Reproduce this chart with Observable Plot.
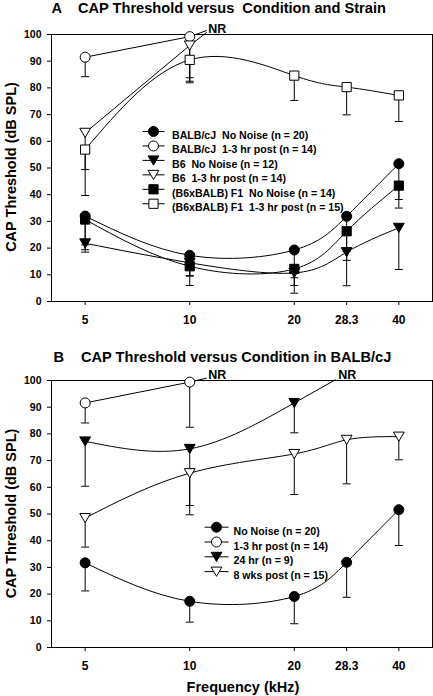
<!DOCTYPE html>
<html>
<head>
<meta charset="utf-8">
<script src="https://cdn.jsdelivr.net/npm/d3@7"></script>
<script src="https://cdn.jsdelivr.net/npm/@observablehq/plot@0.6"></script>
<style>
  html, body { margin: 0; padding: 0; background: #fff; }
  #wrap { position: relative; width: 433px; height: 696px; overflow: hidden; font-family: "Liberation Sans", Arial, sans-serif; }
  #wrap > svg { position: absolute; left: 0; }
  #wrap text { white-space: pre; }
</style>
</head>
<body>
<div id="wrap"></div>
<script>
// ---------- shared axis data ----------
const freqs = [5, 10, 20, 28.3, 40];
const freqLabels = ["5", "10", "20", "28.3", "40"];
const yTicks = [0, 10, 20, 30, 40, 50, 60, 70, 80, 90, 100];

// ---------- Panel A ----------
const titleA = "CAP Threshold versus  Condition and Strain";
const seriesA = [
  "BALB/cJ  No Noise (n = 20)",
  "BALB/cJ  1-3 hr post (n = 14)",
  "B6  No Noise (n = 12)",
  "B6  1-3 hr post (n = 14)",
  "(B6xBALB) F1  No Noise (n = 14)",
  "(B6xBALB) F1  1-3 hr post (n = 15)"
];
const balbNoNoiseA   = [32.0, 17.3, 19.3, 31.9, 51.6];
const balbNoNoiseLoA = [21.2, 9.5, 8.9, 18.8, 38.2];
const balbPostA      = [91.5, 99.2];
const balbPostLoA    = [84.2, 82.5];
const b6NoNoiseA     = [21.8, 14.5, 10.7, 18.5, 27.6];
const b6NoNoiseLoA   = [18.5, 9.7, 3.1, 5.9, 12.0];
const b6PostA        = [63.2, 95.9];
const b6PostLoA      = [39.7, 81.9];
const f1NoNoiseA     = [30.7, 13.2, 12.2, 26.3, 43.4];
const f1NoNoiseLoA   = [19.4, 6.0, 6.0, 15.4, 35.0];
const f1PostA        = [56.9, 90.5, 84.6, 80.3, 77.2];
const f1PostLoA      = [49.4, 83.8, 75.3, 69.9, 67.4];
// "NR" (no response) annotations: series index, end point of the leader, label point
const nrSeriesA = [1, 3];
const nrEndFreqA = [11.2, 11.2];
const nrEndValA = [101.5, 100.8];
const nrLabelFreqA = [12.0];
const nrLabelValA = [102.2];

// ---------- Panel B ----------
const titleB = "CAP Threshold versus Condition in BALB/cJ";
const seriesB = [
  "No Noise (n = 20)",
  "1-3 hr post (n = 14)",
  "24 hr (n = 9)",
  "8 wks post (n = 15)"
];
const noNoiseB   = [31.7, 17.3, 19.1, 31.9, 51.6];
const noNoiseLoB = [21.2, 9.5, 8.9, 18.8, 38.2];
const postB      = [91.6, 99.4];
const postLoB    = [84.1, 82.5];
const hr24B      = [77.2, 74.4, 91.6];
const hr24LoB    = [60.4, 49.7, 80.4];
const wks8B      = [48.5, 65.3, 72.5, 77.8, 79.0];
const wks8LoB    = [37.6, 53.2, 57.3, 61.3, 70.3];
const nrSeriesB = [1, 2];
const nrEndFreqB = [11.2, 26.3];
const nrEndValB = [100.9, 100.3];
const nrLabelFreqB = [12.0, 28.4];
const nrLabelValB = [101.9, 101.9];

// ---------- styles ----------
const FONT = "Liberation Sans, Arial, sans-serif";
const symbols = {
  circle:   { draw(c) { c.moveTo(5, 0); c.arc(0, 0, 5, 0, 2 * Math.PI); } },
  triangle: { draw(c) { c.moveTo(-5.4, -4.5); c.lineTo(5.4, -4.5); c.lineTo(0, 4.7); c.closePath(); } },
  square:   { draw(c) { c.rect(-4.6, -4.6, 9.2, 9.2); } },
  cap:      { draw(c) { c.moveTo(-4, 0); c.lineTo(4, 0); } }
};
const legendLine = (hw) => ({ draw(c) { c.moveTo(-hw, 0); c.lineTo(hw, 0); } });
const styleA = [
  { sym: "circle", fill: "black" }, { sym: "circle", fill: "white" },
  { sym: "triangle", fill: "black" }, { sym: "triangle", fill: "white" },
  { sym: "square", fill: "black" }, { sym: "square", fill: "white" }
];
const styleB = [
  { sym: "circle", fill: "black" }, { sym: "circle", fill: "white" },
  { sym: "triangle", fill: "black" }, { sym: "triangle", fill: "white" }
];

function buildRows(names, values, lows) {
  const rows = [];
  names.forEach((name, i) => {
    values[i].forEach((v, j) => rows.push({ s: i, name, f: freqs[j], v, lo: lows[i][j] }));
  });
  return rows;
}

function makePanel(cfg) {
  const rows = buildRows(cfg.names, cfg.values, cfg.lows);
  const nr = cfg.nrSeries.map((si, k) => {
    const vals = cfg.values[si];
    return { f1: freqs[vals.length - 1], v1: vals[vals.length - 1], f2: cfg.nrEndFreq[k], v2: cfg.nrEndVal[k] };
  });
  const nrLabels = cfg.nrLabelFreq.map((f, k) => ({ f, v: cfg.nrLabelVal[k] }));
  const marks = [
    Plot.frame({ stroke: "black", strokeWidth: 1 }),
    Plot.axisY({ ticks: yTicks, tickSize: 4, tickPadding: 6, fontSize: 10.5, fontWeight: "bold", label: null }),
    Plot.axisX({ ticks: freqs, tickFormat: d => freqLabels[freqs.indexOf(d)], tickSize: 4, tickPadding: 10, fontSize: 12, fontWeight: "bold", label: null }),
    Plot.line(rows, { x: "f", y: "v", z: "s", curve: "natural", stroke: "black", strokeWidth: 1 }),
    Plot.link(nr, { x1: "f1", y1: "v1", x2: "f2", y2: "v2", stroke: "black", strokeWidth: 1 }),
    Plot.text(nrLabels, { x: "f", y: "v", text: () => "NR", fontSize: 12.5, fontWeight: "bold", fill: "black" }),
    Plot.ruleX(rows, { x: "f", y1: "v", y2: "lo", stroke: "black", strokeWidth: 1 }),
    Plot.dot(rows, { x: "f", y: "lo", symbol: symbols.cap, stroke: "black", strokeWidth: 1, fill: "none" })
  ];
  cfg.styles.forEach((st, i) => {
    marks.push(Plot.dot(rows.filter(r => r.s === i), { x: "f", y: "v", symbol: symbols[st.sym], fill: st.fill, stroke: "black", strokeWidth: 1 }));
  });
  // legend
  cfg.names.forEach((name, i) => {
    const dy = cfg.leg.dy0 + i * cfg.leg.step;
    const st = cfg.styles[i];
    marks.push(Plot.dot([name], { frameAnchor: "top-left", dx: cfg.leg.dxMarker, dy, symbol: legendLine(cfg.leg.hw), stroke: "black", strokeWidth: 1, fill: "none" }));
    marks.push(Plot.dot([name], { frameAnchor: "top-left", dx: cfg.leg.dxMarker, dy, symbol: symbols[st.sym], fill: st.fill, stroke: "black", strokeWidth: 1 }));
    marks.push(Plot.text([name], { frameAnchor: "top-left", dx: cfg.leg.dxText, dy, text: d => d, textAnchor: "start", fontSize: 10.6, fontWeight: "bold", fill: "black" }));
  });
  const svg = Plot.plot({
    width: 433,
    height: cfg.height,
    marginTop: cfg.marginTop,
    marginBottom: cfg.marginBottom,
    marginLeft: 51,
    marginRight: 1,
    x: { type: "log", domain: [4, 50] },
    y: { domain: [0, 100] },
    style: { fontFamily: FONT, fontWeight: "bold", background: "white", color: "black", overflow: "visible", whiteSpace: "pre" },
    marks
  });
  svg.querySelectorAll("text").forEach(t => t.setAttribute("xml:space", "preserve"));
  svg.style.top = cfg.top + "px";
  return svg;
}

const wrap = document.getElementById("wrap");
wrap.appendChild(makePanel({
  top: 0, height: 340, marginTop: 34, marginBottom: 39,
  names: seriesA,
  values: [balbNoNoiseA, balbPostA, b6NoNoiseA, b6PostA, f1NoNoiseA, f1PostA],
  lows: [balbNoNoiseLoA, balbPostLoA, b6NoNoiseLoA, b6PostLoA, f1NoNoiseLoA, f1PostLoA],
  styles: styleA,
  nrSeries: nrSeriesA, nrEndFreq: nrEndFreqA, nrEndVal: nrEndValA,
  nrLabelFreq: nrLabelFreqA, nrLabelVal: nrLabelValA,
  leg: { dy0: 97, step: 14.45, dxMarker: 102, hw: 11, dxText: 120.5 }
}));
wrap.appendChild(makePanel({
  top: 340, height: 356, marginTop: 40, marginBottom: 49,
  names: seriesB,
  values: [noNoiseB, postB, hr24B, wks8B],
  lows: [noNoiseLoB, postLoB, hr24LoB, wks8LoB],
  styles: styleB,
  nrSeries: nrSeriesB, nrEndFreq: nrEndFreqB, nrEndVal: nrEndValB,
  nrLabelFreq: nrLabelFreqB, nrLabelVal: nrLabelValB,
  leg: { dy0: 146.7, step: 14.8, dxMarker: 165, hw: 12, dxText: 182 }
}));

// ---------- titles and axis titles (overlay) ----------
const overlay = d3.select(wrap).append("svg")
  .attr("width", 433).attr("height", 696)
  .style("top", "0px").style("pointer-events", "none")
  .attr("font-family", FONT).attr("font-weight", "bold").attr("fill", "black");
const texts = [
  { t: "A", x: 51.5, y: 13.3, size: 14.6 },
  { t: titleA, x: 78, y: 13.3, size: 14.6 },
  { t: "B", x: 53.5, y: 361.5, size: 14.6 },
  { t: titleB, x: 81, y: 361.5, size: 14.6 },
  { t: "Frequency (kHz)", x: 243, y: 692, size: 14.5, anchor: "middle" }
];
texts.forEach(d => overlay.append("text")
  .attr("x", d.x).attr("y", d.y).attr("font-size", d.size)
  .attr("text-anchor", d.anchor || "start")
  .attr("xml:space", "preserve")
  .text(d.t));
[167, 513.5].forEach(cy => overlay.append("text")
  .attr("transform", `translate(15.5,${cy}) rotate(-90)`)
  .attr("text-anchor", "middle").attr("font-size", 14.5)
  .text("CAP Threshold (dB SPL)"));
</script>
</body>
</html>
